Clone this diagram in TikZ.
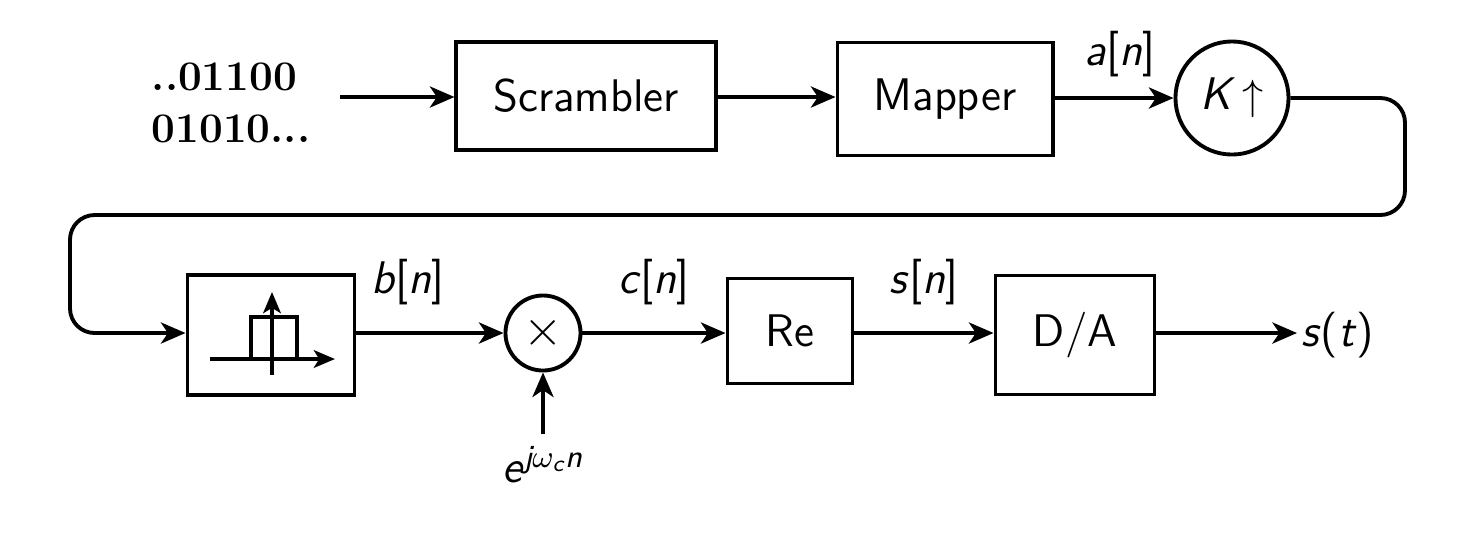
\documentclass[tikz,border=0pt]{standalone}
\usepackage{amsmath}
\usetikzlibrary{arrows.meta}
\newcommand{\mv}[1]{\textsf{\itshape #1}}
\begin{document}
\begin{tikzpicture}[x=0.01cm,y=-0.01cm,
  circ/.style={draw,circle,line width=1.1pt,inner sep=0pt},
  bx/.style={draw,line width=1.1pt},
  conn/.style={line width=1.1pt,-{Stealth[length=7pt,width=6pt,inset=2pt]}},
  every node/.style={font=\sffamily\fontsize{13}{15}\selectfont}]
\useasboundingbox (0,0) rectangle (1472,538);
\node[align=left,font=\bfseries\fontsize{12}{15}\selectfont] (bits) at (231,103) {..01100\\01010...};
\node[bx,minimum width=2.59cm,minimum height=1.08cm] (scr) at (586,96) {Scrambler};
\node[bx,minimum width=2.15cm,minimum height=1.13cm] (map) at (945,99) {Mapper};
\node[circ,minimum size=1.13cm] (up) at (1232,98) {\mv{K}\,$\uparrow$};
\node[bx,minimum width=1.67cm,minimum height=1.2cm] (filt) at (271,335) {};
\node[circ,minimum size=0.75cm] (mul) at (543,333) {\fontsize{15}{15}\selectfont$\times$};
\node[bx,minimum width=1.25cm,minimum height=1.05cm] (re) at (790,331) {Re};
\node[bx,minimum width=1.59cm,minimum height=1.19cm] (da) at (1075,335) {D/A};
\node[anchor=west,inner sep=1pt] (st) at (1297,335) {\mv{s}(\mv{t})};
\node (ej) at (543,465) {\mv{e}$^{\textsf{\itshape j}\omega_{\textsf{\itshape c}}\textsf{\itshape n}}$};
\coordinate (bitsend) at (340,97);
\coordinate (c1) at (1405,98);
\coordinate (c2) at (1405,215);
\coordinate (c3) at (70,215);
\coordinate (c4) at (70,333);
% connectors
\draw[conn] (bitsend) -- (bitsend -| scr.west);
\draw[conn] (scr.east |- 0,97) -- (map.west |- 0,97);
\draw[conn] (map.east |- up.west) -- node[above=2pt,pos=0.55] {\mv{a}[\mv{n}]} (up.west);
\draw[conn,rounded corners=7pt] (up.east) -- (c1) -- (c2) -- (c3) -- (c4) -- (filt.west |- c4);
\draw[conn] (filt.east |- mul.west) -- node[above=4pt,pos=0.35] {\mv{b}[\mv{n}]} (mul.west);
\draw[conn] (mul.east) -- node[above=4pt,pos=0.5] {\mv{c}[\mv{n}]} (re.west |- mul.east);
\draw[conn] (re.east |- mul.east) -- node[above=4pt,pos=0.5] {\mv{s}[\mv{n}]} (da.west |- mul.east);
\draw[conn] (da.east |- mul.east) -- (st.west |- mul.east);
\draw[conn] (ej.north) -- (mul.south);
% filter icon
\draw[line width=1.1pt] (251,359) -- (251,317) -- (297,317) -- (297,359);
\draw[line width=1.1pt,-{Stealth[length=6pt,width=5pt,inset=1.5pt]}] (210,359) -- (335,359);
\draw[line width=1.1pt,-{Stealth[length=6pt,width=5pt,inset=1.5pt]}] (272,375) -- (272,292);
\end{tikzpicture}
\end{document}
